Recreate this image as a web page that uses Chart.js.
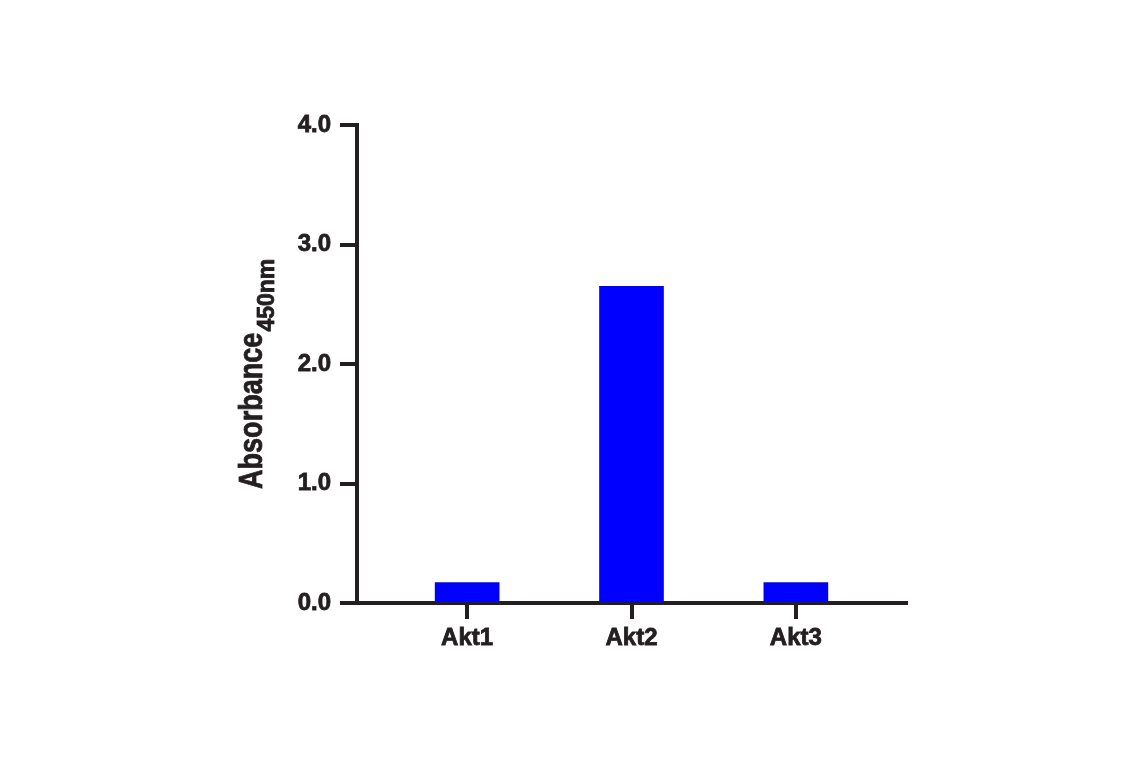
<!DOCTYPE html>
<html>
<head>
<meta charset="utf-8">
<script src="https://cdn.jsdelivr.net/npm/chart.js@4"></script>
<style>
  html, body { margin: 0; padding: 0; background: #fff; }
  #chart { display: block; }
</style>
</head>
<body>
<canvas id="chart" width="1141" height="768"></canvas>
<script>
// Chart data
const categories = ["Akt1", "Akt2", "Akt3"];
const positions = [1, 2, 3];
const absorbance = [0.17, 2.65, 0.17];
const yTicks = [0, 1, 2, 3, 4];

const ink = "#231f20";
const tickFont = { family: "'Liberation Sans', Arial, sans-serif", size: 24, weight: "bold" };

// Y axis title with subscript, drawn rotated
const axisTitle = {
    id: "axisTitle",
    afterDraw(chart) {
        const ctx = chart.ctx;
        ctx.save();
        ctx.translate(262, 489);
        ctx.rotate(-Math.PI / 2);
        ctx.fillStyle = ink;
        ctx.strokeStyle = ink;
        ctx.lineWidth = 0.8;
        ctx.textAlign = "left";
        ctx.textBaseline = "alphabetic";

        ctx.save();
        ctx.scale(0.82, 1);
        ctx.font = "bold 33px 'Liberation Sans', Arial, sans-serif";
        const mainText = "Absorbance";
        ctx.fillText(mainText, 0, 0);
        ctx.strokeText(mainText, 0, 0);
        const w = ctx.measureText(mainText).width * 0.82;
        ctx.restore();

        ctx.font = "bold 23px 'Liberation Sans', Arial, sans-serif";
        ctx.fillText("450nm", w + 1, 12);
        ctx.strokeText("450nm", w + 1, 12);
        ctx.restore();
    }
};

new Chart(document.getElementById("chart"), {
    type: "bar",
    data: {
        datasets: [{
            data: positions.map((x, i) => ({ x, y: absorbance[i] })),
            backgroundColor: "#0000ff",
            borderWidth: 0,
            barThickness: 64,
        }],
    },
    options: {
        responsive: false,
        animation: false,
        devicePixelRatio: 1,
        layout: { padding: { left: 0, top: 125, right: 235, bottom: 0 } },
        plugins: { legend: { display: false }, tooltip: { enabled: false } },
        scales: {
            x: {
                type: "linear",
                min: 0.33,
                max: 3.67,
                offset: false,
                afterFit: (scale) => { scale.height = 165; },
                afterBuildTicks: (scale) => { scale.ticks = positions.map(v => ({ value: v })); },
                border: { display: true, color: ink, width: 4 },
                grid: { display: true, offset: false, drawOnChartArea: false, drawTicks: true, tickLength: 16, color: ink, tickColor: ink, lineWidth: 4, tickWidth: 4 },
                ticks: {
                    color: ink,
                    font: tickFont,
                    textStrokeColor: ink,
                    textStrokeWidth: 0.8,
                    padding: 5,
                    maxRotation: 0,
                    callback: (v, i) => categories[i],
                },
            },
            y: {
                min: 0,
                max: 4,
                afterFit: (scale) => { scale.width = 357; },
                afterBuildTicks: (scale) => { scale.ticks = yTicks.map(v => ({ value: v })); },
                border: { display: true, color: ink, width: 4 },
                grid: { display: true, drawOnChartArea: false, drawTicks: true, tickLength: 17, color: ink, tickColor: ink, lineWidth: 4, tickWidth: 4 },
                ticks: {
                    color: ink,
                    font: tickFont,
                    textStrokeColor: ink,
                    textStrokeWidth: 0.8,
                    padding: 9,
                    callback: (v) => v.toFixed(1),
                },
            },
        },
    },
    plugins: [axisTitle],
});
</script>
</body>
</html>
